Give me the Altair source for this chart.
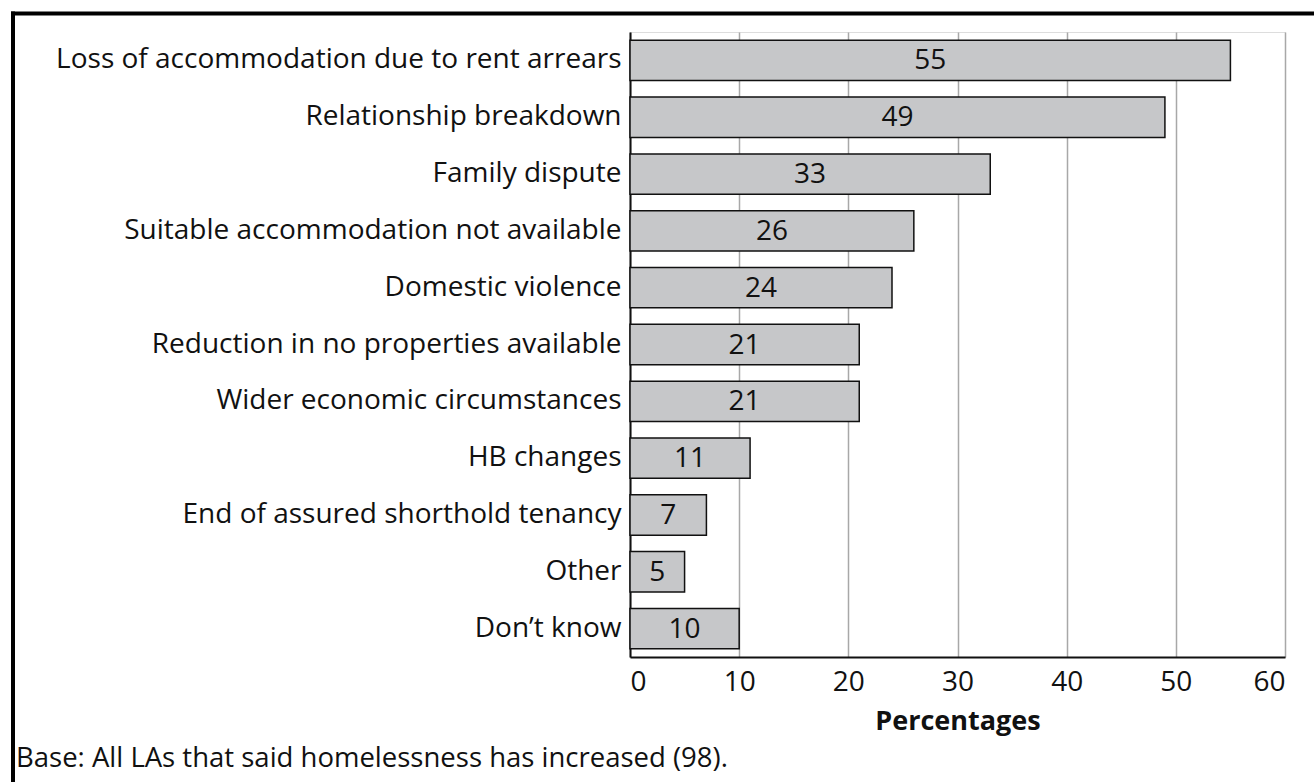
import altair as alt
import pandas as pd

categories = [
    "Loss of accommodation due to rent arrears",
    "Relationship breakdown",
    "Family dispute",
    "Suitable accommodation not available",
    "Domestic violence",
    "Reduction in no properties available",
    "Wider economic circumstances",
    "HB changes",
    "End of assured shorthold tenancy",
    "Other",
    "Don\u2019t know",
]
values = [55, 49, 33, 26, 24, 21, 21, 11, 7, 5, 10]
x_ticks = [0, 10, 20, 30, 40, 50, 60]
footer = "Base: All LAs that said homelessness has increased (98)."
x_title = "Percentages"

FONT = "Open Sans"
FS = 28
df = pd.DataFrame({"category": categories, "value": values})
df["mid"] = df["value"] / 2

ysc = alt.Scale(domain=categories, paddingInner=0.29, paddingOuter=0.145)
xsc = alt.Scale(domain=[0, 60], nice=False)

base = alt.Chart(df)

bars = base.mark_bar(fill="#c6c7c9", stroke="#111111", strokeWidth=1.5).encode(
    y=alt.Y("category:N", scale=ysc, sort=categories,
            axis=alt.Axis(title=None, labelFontSize=FS, labelFont=FONT, labelColor="#111111",
                          labelPadding=9, labelLimit=700, ticks=False, domainColor="#111111",
                          domainWidth=2, grid=False)),
    x=alt.X("value:Q", scale=xsc,
            axis=alt.Axis(values=x_ticks, title=x_title, titleFont=FONT, titleFontSize=27,
                          titleFontWeight="bold", titleColor="#111111", titlePadding=12,
                          labelFontSize=FS, labelFont=FONT, labelColor="#111111",
                          labelPadding=11, ticks=False, domainColor="#111111", domainWidth=2,
                          grid=True, gridColor="#a8a8a8", gridWidth=1.5)),
)

labels = base.mark_text(font=FONT, fontSize=FS, color="#111111", baseline="middle",
                        align="center", dy=1).encode(
    y=alt.Y("category:N", scale=ysc, sort=categories),
    x=alt.X("mid:Q", scale=xsc),
    text=alt.Text("value:Q"),
)

frame_df = pd.DataFrame({"k": [0]})
frame_top = alt.Chart(frame_df).mark_rule(color="#000000", strokeWidth=4).encode(
    x=alt.value(-619), x2=alt.value(700), y=alt.value(-18.5)
)
frame_left = alt.Chart(frame_df).mark_rule(color="#000000", strokeWidth=4).encode(
    x=alt.value(-617), y=alt.value(-20.5), y2=alt.value(780)
)
foot = alt.Chart(frame_df).mark_text(font=FONT, fontSize=27.5, color="#111111", align="left",
                                     baseline="alphabetic").encode(
    x=alt.value(-614), y=alt.value(735), text=alt.value(footer)
)

chart = alt.layer(bars, labels, frame_top, frame_left, foot).properties(
    width=655, height=625,
    autosize=alt.AutoSizeParams(type="none"),
    padding={"left": 630, "top": 32, "right": 29, "bottom": 125},
).configure_view(stroke="#333333", strokeWidth=1.5).configure(background="white")

chart.save("out.html", embed_options={"renderer": "svg", "actions": False})
